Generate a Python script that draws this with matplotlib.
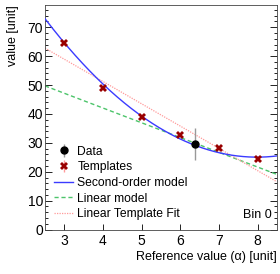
import matplotlib
matplotlib.use('Agg')
import matplotlib.pyplot as plt
from matplotlib.ticker import MultipleLocator
import numpy as np

plt.rcParams['font.family'] = ['Liberation Sans', 'DejaVu Sans']

# template points
tmpl_x = np.array([3, 4, 5, 6, 7, 8])
tmpl_y = np.array([64.6, 49.0, 39.1, 32.7, 28.1, 24.5])
tmpl_err = np.array([0.8, 0.8, 0.8, 0.8, 0.8, 0.8])

# measured data point
data_x = [6.37]
data_y = [29.7]
data_err = [5.5]

# model coefficients (highest power first)
quad_coef = [1.59, -25.4, 126.5]
lin_coef = [-5.1, 62.45]

fig = plt.figure(figsize=(2.8, 2.74), dpi=100)
ax = fig.add_axes([0.1607, 0.162, 0.828, 0.82])

xs = np.linspace(2.5, 8.5, 200)
ax.plot(xs, np.polyval(quad_coef, xs), color='#3b3bff', lw=1.0, label='Second-order model', zorder=3)
ax.plot(xs, np.polyval(lin_coef, xs), color='#4cc46a', lw=1.0, ls=(0, (3, 2)), label='Linear model', zorder=2)
tfit = np.polyfit(tmpl_x, tmpl_y, 1)
ax.plot(xs, np.polyval(tfit, xs), color='#ff9a9a', lw=0.9, ls=(0, (1, 1)), label='Linear Template Fit', zorder=2)

ax.errorbar(data_x, data_y, yerr=data_err, fmt='o', color='black', ms=5, ecolor='#999999',
            elinewidth=1.0, capsize=0, label='Data', zorder=5)
ax.errorbar(tmpl_x, tmpl_y, yerr=tmpl_err, fmt='X', color='#990000', ms=5.5, mew=0,
            ecolor='#ff9a9a', elinewidth=1.0, capsize=1.5, label='Templates', zorder=4)

ax.set_xlim(2.5, 8.5)
ax.set_ylim(0, 77.7)
ax.xaxis.set_major_locator(MultipleLocator(1))
ax.yaxis.set_major_locator(MultipleLocator(10))
ax.yaxis.set_minor_locator(MultipleLocator(2))
ax.tick_params(axis='both', which='both', direction='in', labelsize=10, width=0.6)
ax.tick_params(axis='y', which='major', length=5, right=True, pad=1.5)
ax.tick_params(axis='y', which='minor', length=2.5, right=True)
ax.tick_params(axis='x', which='major', length=4, top=False, pad=3)
for s in ax.spines.values():
    s.set_linewidth(0.6)
    s.set_color('#444444')

ax.set_xlabel('Reference value (α) [unit]', loc='right', fontsize=9, labelpad=2)
ax.set_ylabel('value [unit]', loc='top', fontsize=9, labelpad=6)

h, l = ax.get_legend_handles_labels()
order = [3, 4, 0, 1, 2]
ax.legend([h[i] for i in order], [l[i] for i in order], loc='upper left',
          bbox_to_anchor=(0.02, 0.395), frameon=False, fontsize=8.7,
          handlelength=1.5, handletextpad=0.4, labelspacing=0.3, borderaxespad=0)

ax.text(0.978, 0.065, 'Bin 0', transform=ax.transAxes, ha='right', va='center', fontsize=9)

fig.savefig('out.png', dpi=100)
